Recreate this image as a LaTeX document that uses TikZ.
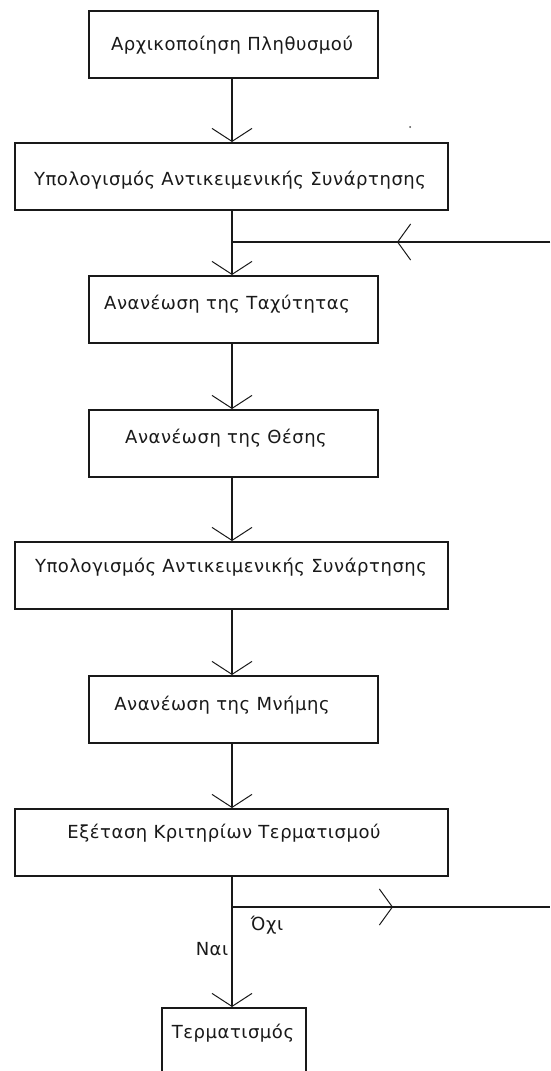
\documentclass[tikz,border=0pt]{standalone}
\usepackage{fontspec}
\setmainfont{DejaVu Sans}[LetterSpace=3]
\usetikzlibrary{arrows.meta}
\tikzset{
  box/.style={draw=black!90, line width=1.6pt, inner sep=0pt, anchor=north west},
  txt/.style={text=black!90, font=\fontsize{18}{21}\selectfont, inner sep=0pt},
  conn/.style={draw=black!90, line width=1.3pt},
  tipdown/.style={-{Straight Barb[length=13pt,width=40pt,line width=1pt]}},
  tipmid/.style={-{Straight Barb[length=13pt,width=36pt,line width=1pt]}},
}
\begin{document}
\begin{tikzpicture}[x=1pt,y=-1pt]
\useasboundingbox (0,0) rectangle (550,1071);
\clip (0,0) rectangle (550,1071);
\fill[white] (0,0) rectangle (550,1071);
% boxes
\node[box, minimum width=289pt, minimum height=67pt] (b1) at (88,10) {};
\node[box, minimum width=433pt, minimum height=67pt] (b2) at (14,142) {};
\node[box, minimum width=289pt, minimum height=67pt] (b3) at (88,275) {};
\node[box, minimum width=289pt, minimum height=67pt] (b4) at (88,409) {};
\node[box, minimum width=433pt, minimum height=67pt] (b5) at (14,541) {};
\node[box, minimum width=289pt, minimum height=67pt] (b6) at (88,675) {};
\node[box, minimum width=433pt, minimum height=67pt] (b7) at (14,808) {};
\node[box, minimum width=144pt, minimum height=67pt] (b8) at (161,1007) {};
% texts
\node[txt] (t1) at (232,45) {Αρχικοποίηση Πληθυσμού};
\node[txt] (t2) at (230,180) {Υπολογισμός Αντικειμενικής Συνάρτησης};
\node[txt] (t3) at (227,304) {Ανανέωση της Ταχύτητας};
\node[txt] (t4) at (226,438) {Ανανέωση της Θέσης};
\node[txt] (t5) at (231,567) {Υπολογισμός Αντικειμενικής Συνάρτησης};
\node[txt] (t6) at (222,705) {Ανανέωση της Μνήμης};
\node[txt] (t7) at (224,833) {Εξέταση Κριτηρίων Τερματισμού};
\node[txt] (t8) at (233,1033) {Τερματισμός};
% coordinates
\coordinate (j1) at (232,242);
\coordinate (fbR) at (550,242);
\coordinate (fbM) at (397,242);
\coordinate (j2) at (232,907);
\coordinate (outR) at (550,907);
\coordinate (outM) at (393,907);
% connectors
\draw[conn,tipdown] (b1.south -| j1) -- (b2.north -| j1);
\draw[conn,tipdown] (b2.south -| j1) -- (b3.north -| j1);
\draw[conn] (fbR) -- (j1);
\draw[conn,tipmid] (fbR) -- (fbM);
\draw[conn,tipdown] (b3.south -| j1) -- (b4.north -| j1);
\draw[conn,tipdown] (b4.south -| j1) -- (b5.north -| j1);
\draw[conn,tipdown] (b5.south -| j1) -- (b6.north -| j1);
\draw[conn,tipdown] (b6.south -| j1) -- (b7.north -| j1);
\draw[conn,tipdown] (b7.south -| j1) -- (b8.north -| j1);
\draw[conn] (j2) -- (outR);
\draw[conn,tipmid] (j2) -- (outM);
% labels
\node[txt] (no) at (267,925) {Όχι};
\node[txt] (yes) at (212,949) {Ναι};
% stray dot
\fill[black!70] (410,127) circle (1pt);
\end{tikzpicture}
\end{document}
